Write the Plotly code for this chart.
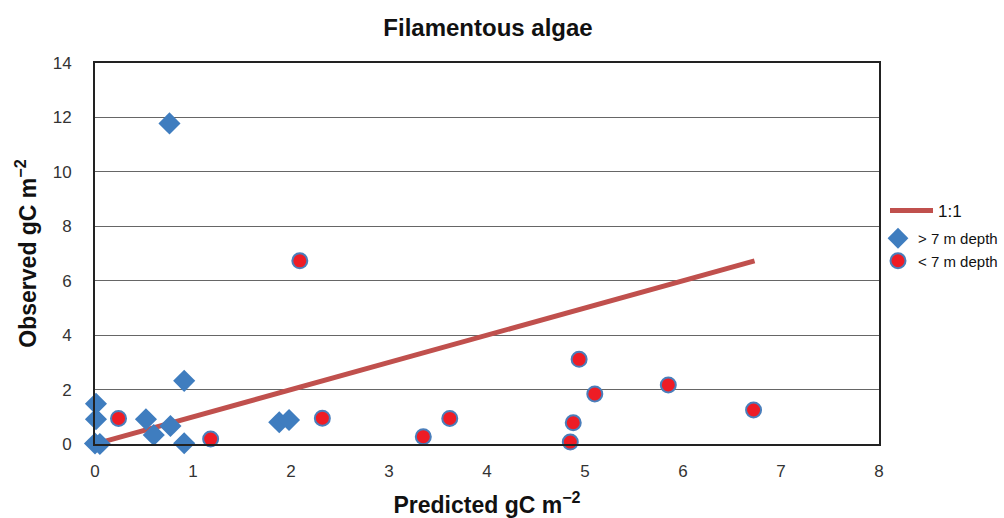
import plotly.graph_objects as go

title = "Filamentous algae"
x_title = "Predicted gC m<sup>−2</sup>"
y_title = "Observed gC m<sup>−2</sup>"

line_name = "1:1"
line_x = [0, 4.86, 6.73]
line_y = [0, 4.86, 6.73]

deep_name = "> 7 m depth"
deep_x = [0.76, 0.91, 0.01, 0.01, 0.52, 0.60, 0.77, 0.91, 0.00, 0.05, 1.88, 1.98]
deep_y = [11.78, 2.32, 1.48, 0.91, 0.91, 0.33, 0.66, 0.03, 0.02, 0.00, 0.80, 0.88]

shallow_name = "< 7 m depth"
shallow_x = [0.24, 1.18, 2.09, 2.32, 3.35, 3.62, 4.85, 4.88, 4.94, 5.10, 5.85, 6.72]
shallow_y = [0.94, 0.18, 6.73, 0.95, 0.27, 0.94, 0.07, 0.78, 3.11, 1.84, 2.17, 1.25]

x_ticks = [0, 1, 2, 3, 4, 5, 6, 7, 8]
y_ticks = [0, 2, 4, 6, 8, 10, 12, 14]

fig = go.Figure()
fig.add_trace(go.Scatter(x=line_x, y=line_y, mode="lines", name=line_name, legend="legend",
                         line=dict(color="#C0504D", width=5), cliponaxis=False))
fig.add_trace(go.Scatter(x=deep_x, y=deep_y, mode="markers", name=deep_name, legend="legend2",
                         marker=dict(symbol="diamond", size=17, color="#3F7DBF",
                                     line=dict(width=0)), cliponaxis=False))
fig.add_trace(go.Scatter(x=shallow_x, y=shallow_y, mode="markers", name=shallow_name, legend="legend2",
                         marker=dict(symbol="circle", size=15, color="#EE1C25",
                                     line=dict(width=2, color="#4A7EBB")), cliponaxis=False))

font_family = "Liberation Sans, Arial, sans-serif"
W, H = 1004, 518
fig.update_layout(
    width=W, height=H,
    margin=dict(l=95, r=125, t=63, b=74, autoexpand=False),
    plot_bgcolor="white", paper_bgcolor="white",
    font=dict(family=font_family, color="#222222", size=15),
    title=dict(text="<b>" + title + "</b>", x=488 / W, xanchor="center", xref="container",
               y=1 - 28 / H, yanchor="middle", font=dict(size=24, color="#111111")),
    xaxis=dict(range=[0, 8], tickvals=x_ticks, showgrid=False, zeroline=False,
               showline=True, linecolor="#222222", linewidth=2, mirror=True,
               ticks="", tickfont=dict(size=17, color="#333333"), ticklabelstandoff=11,
               title=dict(text="<b>" + x_title + "</b>", font=dict(size=23, color="#111111"), standoff=22)),
    yaxis=dict(range=[0, 14], tickvals=y_ticks, showgrid=True, gridcolor="#666666", gridwidth=1,
               zeroline=False, showline=True, linecolor="#222222", linewidth=2, mirror=True,
               ticks="", tickfont=dict(size=17, color="#333333"), ticklabelstandoff=18,
               title=dict(text="<b>" + y_title + "</b>", font=dict(size=23, color="#111111"), standoff=10)),
    legend=dict(xref="container", yref="container", x=885 / W, y=1 - 193 / H,
                xanchor="left", yanchor="top", font=dict(size=17, color="#111111"),
                bgcolor="rgba(0,0,0,0)", itemwidth=43),
    legend2=dict(xref="container", yref="container", x=878 / W, y=1 - 222 / H,
                 xanchor="left", yanchor="top", font=dict(size=15, color="#111111"),
                 bgcolor="rgba(0,0,0,0)", tracegroupgap=0),
    showlegend=True,
)

fig.write_html("out.html")
